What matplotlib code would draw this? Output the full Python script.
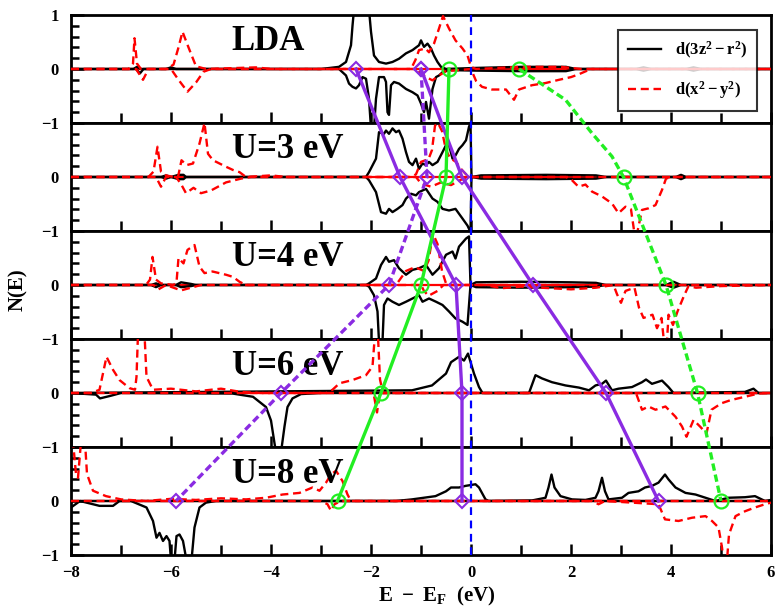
import matplotlib.pyplot as plt
from matplotlib.lines import Line2D
from matplotlib.ticker import MultipleLocator

plt.rcParams['font.family'] = ['Liberation Serif', 'DejaVu Serif']
plt.rcParams['font.weight'] = 'bold'
plt.rcParams['mathtext.fontset'] = 'custom'
plt.rcParams['mathtext.rm'] = 'Liberation Serif:bold'
plt.rcParams['mathtext.it'] = 'Liberation Serif:bold'
plt.rcParams['mathtext.bf'] = 'Liberation Serif:bold'

# ---- panel names ----
panel_names = ["LDA", "U=3 eV", "U=4 eV", "U=6 eV", "U=8 eV"]

# ---- DOS curves, (E, N) pairs ----
# LDA
lda_blk_up = [(-8, 0), (-6.75, 0), (-6.68, 0.04), (-6.6, 0), (-6.1, 0), (-6.0, 0.03), (-5.9, 0),
              (-3.0, 0), (-2.64, 0.04), (-2.50, 0.13), (-2.40, 0.44), (-2.37, 0.8), (-2.34, 1.1),
              (-2.04, 1.1), (-2.00, 0.69), (-1.94, 0.25), (-1.84, 0.13), (-1.70, 0.10), (-1.57, 0.13),
              (-1.44, 0.19), (-1.30, 0.29), (-1.17, 0.35), (-1.04, 0.44), (-1.00, 0.53), (-0.94, 0.41),
              (-0.87, 0.47), (-0.80, 0.38), (-0.74, 0.25), (-0.67, 0.13), (-0.60, 0.04), (-0.50, 0),
              (0.1, 0.02), (1.0, 0.04), (1.9, 0.04), (2.1, 0), (3.3, 0.0), (3.45, 0.03), (3.6, 0),
              (4.3, 0), (4.45, 0.03), (4.6, 0), (6, 0)]
lda_blk_dn = [(-8, 0), (-6.7, 0), (-6.62, -0.08), (-6.55, 0), (-2.64, 0), (-2.50, -0.12),
              (-2.44, -0.27), (-2.37, -0.33), (-2.30, -0.36), (-2.24, -0.30), (-2.17, -0.15),
              (-2.10, -0.18), (-2.04, -0.55), (-2.00, -1.1), (-1.94, -1.1), (-1.90, -0.55),
              (-1.84, -0.15), (-1.74, -0.15), (-1.70, -0.24), (-1.67, -0.80), (-1.64, -0.85),
              (-1.60, -0.30), (-1.54, -0.24), (-1.44, -0.27), (-1.30, -0.37), (-1.17, -0.43),
              (-1.07, -0.49), (-1.00, -0.64), (-0.94, -0.80), (-0.90, -0.61), (-0.84, -0.92),
              (-0.77, -0.37), (-0.70, -0.15), (-0.64, -0.12), (-0.57, -0.06), (-0.44, -0.02),
              (0.1, -0.03), (1.0, -0.04), (1.9, -0.04), (2.1, 0), (3.3, 0), (3.45, -0.03), (3.6, 0),
              (4.3, 0), (4.45, -0.03), (4.6, 0), (6, 0)]
lda_red_up = [(-8, 0), (-6.85, 0), (-6.76, 0.1), (-6.73, 0.57), (-6.68, 0.1), (-6.6, 0),
              (-6.1, 0), (-5.95, 0.08), (-5.85, 0.4), (-5.77, 0.69), (-5.65, 0.4), (-5.5, 0.05),
              (-5.3, 0), (-4.3, 0.03), (-4.0, 0), (-1.2, 0), (-1.11, 0.17), (-1.04, 0.35),
              (-0.91, 0.38), (-0.84, 0.31), (-0.74, 0.47), (-0.64, 0.75), (-0.56, 0.98),
              (-0.44, 0.75), (-0.31, 0.53), (-0.17, 0.38), (-0.07, 0.25), (0.0, 0.04), (0.1, 0),
              (1.0, 0.04), (1.8, 0.04), (2.2, 0), (6, 0)]
lda_red_dn = [(-8, 0), (-6.7, 0), (-6.56, -0.2), (-6.45, 0), (-6.0, 0), (-5.85, -0.2),
              (-5.67, -0.42), (-5.5, -0.25), (-5.35, -0.05), (-5.2, 0), (-1.1, 0), (-0.9, -0.15),
              (-0.77, -0.21), (-0.64, -0.12), (-0.5, -0.04), (0.0, 0), (0.1, -0.22), (0.22, -0.33),
              (0.42, -0.38), (0.7, -0.38), (0.86, -0.57), (0.96, -0.38), (1.22, -0.30),
              (1.49, -0.26), (1.76, -0.2), (2.0, -0.15), (2.15, -0.1), (2.4, 0), (6, 0)]

# U = 3 eV
u3_blk_up = [(-8, 0), (-6.2, 0), (-6.1, 0.03), (-6.0, 0), (-5.85, 0.04), (-5.75, 0.04), (-5.7, 0),
             (-2.1, 0), (-2.04, 0.09), (-1.90, 0.34), (-1.84, 0.83), (-1.74, 0.8), (-1.70, 0.86),
             (-1.64, 0.8), (-1.57, 0.9), (-1.50, 0.83), (-1.44, 0.86), (-1.37, 0.71), (-1.30, 0.46),
             (-1.24, 0.28), (-1.17, 0.22), (-1.10, 0.34), (-1.04, 0.15), (-0.97, 0.25), (-0.90, 0.22),
             (-0.84, 0.28), (-0.77, 0.22), (-0.67, 0.28), (-0.57, 0.46), (-0.50, 0.59), (-0.44, 0.59),
             (-0.37, 0.34), (-0.31, 0.40), (-0.24, 0.52), (-0.17, 0.59), (-0.10, 0.68), (-0.04, 0.93),
             (-0.01, 1.0), (0.01, 0), (0.2, 0.03), (1.5, 0.04), (2.5, 0.03), (2.7, 0), (4.1, 0),
             (4.2, 0.04), (4.3, 0), (6, 0)]
u3_blk_dn = [(-8, 0), (-6.2, 0), (-6.1, -0.03), (-6.0, 0), (-5.85, -0.04), (-5.75, -0.04), (-5.7, 0),
             (-2.1, 0), (-2.04, -0.06), (-1.90, -0.28), (-1.80, -0.65), (-1.70, -0.68), (-1.64, -0.59),
             (-1.57, -0.65), (-1.47, -0.59), (-1.37, -0.52), (-1.30, -0.4), (-1.20, -0.31),
             (-1.10, -0.34), (-1.04, -0.28), (-0.90, -0.22), (-0.77, -0.4), (-0.67, -0.46),
             (-0.57, -0.59), (-0.44, -0.62), (-0.31, -0.59), (-0.17, -0.77), (-0.07, -0.9),
             (-0.01, -1.02), (0.01, 0), (0.2, -0.03), (1.5, -0.04), (2.5, -0.03), (2.7, 0),
             (4.1, 0), (4.2, -0.04), (4.3, 0), (6, 0)]
u3_red_up = [(-8, 0), (-6.45, 0), (-6.35, 0.1), (-6.27, 0.56), (-6.2, 0.1), (-6.1, 0.03),
             (-5.95, 0), (-5.86, 0), (-5.79, 0.31), (-5.69, 0.22), (-5.56, 0.25), (-5.43, 0.62),
             (-5.33, 1.0), (-5.26, 0.43), (-5.16, 0.31), (-5.03, 0.25), (-4.90, 0.19),
             (-4.76, 0.13), (-4.63, 0.09), (-4.5, 0), (-4.0, 0.03), (-3.7, 0), (-1.2, 0),
             (-1.1, 0.05), (-1.0, 0.28), (-0.85, 0.33), (-0.78, 0.5), (-0.72, 0.95), (-0.66, 1.0),
             (-0.58, 0.85), (-0.5, 0.5), (-0.42, 0.35), (-0.3, 0.28), (-0.2, 0.15), (-0.1, 0.05),
             (0, 0), (6, 0)]
u3_red_dn = [(-8, 0), (-6.3, 0), (-6.2, -0.18), (-6.1, 0), (-5.9, 0), (-5.8, -0.13), (-5.7, -0.3),
             (-5.55, -0.2), (-5.4, -0.3), (-5.2, -0.25), (-4.9, -0.1), (-4.6, -0.03), (-4.4, 0),
             (-1.1, 0), (-1.0, -0.12), (-0.8, -0.18), (-0.6, -0.1), (-0.4, -0.15), (-0.2, -0.05),
             (0, 0), (1.9, 0), (2.02, -0.06), (2.15, -0.18), (2.29, -0.14), (2.42, -0.27),
             (2.62, -0.36), (2.82, -0.49), (2.95, -0.67), (3.09, -0.55), (3.2, -0.6), (3.27, -1.05),
             (3.32, -1.05), (3.42, -0.61), (3.55, -0.58), (3.69, -0.52), (3.82, -0.24),
             (3.9, -0.03), (4.0, 0), (6, 0)]

# U = 4 eV
u4_blk_up = [(-8, 0), (-6.4, 0), (-6.3, 0.03), (-6.2, 0), (-5.9, 0), (-5.8, 0.05), (-5.6, 0.02),
             (-5.5, 0), (-2.1, 0), (-2.04, 0.03), (-1.90, 0.12), (-1.80, 0.37), (-1.70, 0.52),
             (-1.64, 0.43), (-1.54, 0.46), (-1.44, 0.31), (-1.30, 0.19), (-1.17, 0.28), (-1.04, 0.31),
             (-0.90, 0.37), (-0.77, 0.19), (-0.64, 0.31), (-0.50, 0.56), (-0.37, 0.62), (-0.31, 0.49),
             (-0.24, 0.71), (-0.10, 0.86), (-0.04, 0.9), (-0.01, 0), (0.1, 0.05), (1.0, 0.06),
             (2.0, 0.05), (2.5, 0.04), (2.7, 0), (3.9, 0), (4.05, 0.06), (4.2, 0), (6, 0)]
u4_blk_dn = [(-8, 0), (-6.4, 0), (-6.3, -0.04), (-6.2, 0), (-5.9, 0), (-5.8, -0.04), (-5.6, -0.02),
             (-5.5, 0), (-2.1, 0), (-2.04, -0.03), (-1.94, -0.19), (-1.87, -0.49), (-1.84, -1.05),
             (-1.77, -1.05), (-1.74, -0.37), (-1.67, -0.25), (-1.57, -0.31), (-1.44, -0.37),
             (-1.30, -0.31), (-1.17, -0.25), (-1.04, -0.19), (-0.97, -0.31), (-0.84, -0.25),
             (-0.70, -0.31), (-0.57, -0.37), (-0.44, -0.49), (-0.31, -0.62), (-0.17, -0.68),
             (-0.07, -0.74), (-0.01, 0), (0.1, -0.04), (1.0, -0.05), (2.0, -0.04), (2.5, -0.03),
             (2.7, 0), (3.9, 0), (4.05, -0.05), (4.2, 0), (6, 0)]
u4_red_up = [(-8, 0), (-6.5, 0), (-6.42, 0.1), (-6.37, 0.52), (-6.3, 0.1), (-6.2, 0.03),
             (-5.95, 0), (-5.89, 0.05), (-5.85, 0.5), (-5.75, 0.4), (-5.67, 0.65), (-5.53, 0.74),
             (-5.43, 0.34), (-5.33, 0.22), (-5.17, 0.25), (-4.9, 0.19), (-4.76, 0.15),
             (-4.63, 0.06), (-4.5, 0), (-1.5, 0), (-1.30, 0.26), (-1.12, 0.33), (-0.94, 0.26),
             (-0.85, 0.45), (-0.76, 0.95), (-0.67, 0.76), (-0.58, 0.26), (-0.49, 0), (6, 0)]
u4_red_dn = [(-8, 0), (-6.35, 0), (-6.25, -0.08), (-6.1, 0), (-5.8, -0.1), (-5.6, -0.05),
             (-5.4, 0), (-1.0, 0), (-0.94, -0.11), (-0.85, -0.2), (-0.67, -0.11), (-0.55, 0),
             (0.3, 0), (0.6, -0.06), (1.0, -0.03), (2.0, -0.08), (2.5, -0.05), (2.85, 0),
             (2.92, -0.17), (3.0, -0.33), (3.09, -0.11), (3.27, -0.05), (3.36, -0.42),
             (3.45, -0.61), (3.63, -0.55), (3.72, -0.8), (3.81, -0.61), (3.86, -1.05),
             (3.92, -1.05), (3.95, -0.55), (4.04, -0.74), (4.13, -0.49), (4.26, -0.2),
             (4.35, -0.02), (4.5, -0.05), (5.0, -0.02), (6, 0)]

# U = 6 eV
u6_blk_up = [(-8, 0), (-1.18, 0.05), (-0.78, 0.14), (-0.5, 0.36), (-0.4, 0.57), (-0.24, 0.67),
             (-0.14, 0.6), (-0.06, 0.73), (0.06, 0.36), (0.16, 0.11), (0.23, 0), (1.16, 0),
             (1.29, 0.33), (1.42, 0.27), (1.62, 0.2), (1.89, 0.14), (2.16, 0.1), (2.36, 0.05),
             (2.49, 0.14), (2.62, 0.17), (2.7, 0.23), (2.82, 0.05), (2.95, 0.08), (3.22, 0.11),
             (3.42, 0.2), (3.5, 0.25), (3.62, 0.17), (3.82, 0.23), (3.95, 0.11), (4.05, 0),
             (5.48, 0.02), (5.65, 0.08), (5.75, 0), (6, 0)]
u6_blk_dn = [(-8, 0), (-7.5, -0.03), (-7.42, -0.1), (-7.2, -0.05), (-7.0, 0), (-4.77, -0.01),
             (-4.36, -0.07), (-4.1, -0.26), (-4.0, -0.51), (-3.93, -0.93), (-3.9, -1.1),
             (-3.8, -1.1), (-3.73, -0.62), (-3.67, -0.26), (-3.57, -0.1), (-3.4, -0.02),
             (-3.0, 0), (6, 0)]
u6_red_up = [(-8, 0), (-7.6, 0), (-7.43, 0.06), (-7.29, 0.67), (-7.16, 0.43), (-7.03, 0.24),
             (-6.83, 0.09), (-6.72, 0.06), (-6.69, 0.3), (-6.66, 1.1), (-6.53, 1.1), (-6.49, 0.3),
             (-6.36, 0.06), (-6.0, 0.08), (-5.5, 0.03), (-5.0, 0.08), (-4.6, 0.02), (-4.2, 0),
             (-2.9, 0), (-2.77, 0.06), (-2.63, 0.18), (-2.37, 0.24), (-2.1, 0.33), (-1.97, 0.49),
             (-1.92, 1.1), (-1.86, 1.05), (-1.82, 0.25), (-1.76, 0), (6, 0)]
u6_red_dn = [(-8, 0), (-1.95, 0), (-1.88, -0.36), (-1.82, 0), (3.3, 0), (3.42, -0.31),
             (3.55, -0.25), (3.69, -0.31), (3.89, -0.25), (4.09, -0.44), (4.22, -0.62),
             (4.31, -0.81), (4.45, -0.5), (4.58, -0.62), (4.71, -0.75), (4.81, -0.31),
             (5.01, -0.19), (5.2, -0.13), (5.48, -0.07), (5.75, -0.01), (6, 0)]

# U = 8 eV
u8_blk_up = [(-8, 0), (-1.5, 0), (-1.18, 0.03), (-0.71, 0.09), (-0.5, 0.18), (-0.4, 0.25),
             (-0.24, 0.25), (-0.11, 0.28), (0.09, 0.31), (0.16, 0.25), (0.29, 0.03), (0.35, 0),
             (1.22, 0.01), (1.49, 0.06), (1.55, 0.25), (1.61, 0.49), (1.67, 0.25), (1.79, 0.09),
             (2.02, 0.03), (2.29, 0.02), (2.49, 0.06), (2.55, 0.18), (2.62, 0.43), (2.68, 0.18),
             (2.75, 0.03), (3.02, 0.06), (3.15, 0.15), (3.35, 0.18), (3.48, 0.25), (3.62, 0.28),
             (3.75, 0.34), (3.88, 0.49), (3.95, 0.40), (4.09, 0.25), (4.29, 0.15), (4.49, 0.12),
             (4.69, 0.06), (4.89, 0.0), (5.15, 0.06), (5.48, 0.07), (5.68, 0.09), (5.88, 0.0),
             (6, 0.02)]
u8_blk_dn = [(-8, -0.12), (-7.82, 0), (-7.69, -0.03), (-7.43, -0.09), (-7.16, -0.09),
             (-7.03, 0), (-6.8, 0), (-6.49, -0.12), (-6.36, -0.37), (-6.29, -0.68),
             (-6.23, -0.59), (-6.16, -0.74), (-6.09, -0.65), (-6.03, -0.74), (-6.0, -1.1),
             (-5.93, -1.1), (-5.89, -0.65), (-5.83, -0.62), (-5.76, -0.74), (-5.69, -1.1),
             (-5.59, -1.1), (-5.53, -0.49), (-5.43, -0.12), (-5.3, -0.03), (-5.1, 0), (6, 0)]
u8_red_up = [(-8, 1.1), (-7.96, 1.1), (-7.9, 0.5), (-7.86, 0.43), (-7.8, 1.1), (-7.72, 1.1),
             (-7.68, 0.5), (-7.56, 0.19), (-7.3, 0.09), (-7.0, 0.03), (-6.5, 0), (-6.0, 0.04),
             (-5.5, 0.02), (-5.0, 0.05), (-4.5, 0.03), (-4.1, 0.06), (-3.77, 0.12), (-3.43, 0.15),
             (-3.17, 0.25), (-3.03, 0.19), (-2.9, 0.34), (-2.8, 0.49), (-2.7, 0.56), (-2.57, 0.37),
             (-2.47, 0.12), (-2.4, 0), (6, 0)]
u8_red_dn = [(-8, 0), (-3.0, 0), (-2.87, -0.06), (-2.8, -0.18), (-2.73, -0.06), (-2.6, 0),
             (2.42, 0), (2.55, -0.06), (2.68, 0), (3.75, -0.06), (3.88, -0.34), (4.15, -0.37),
             (4.42, -0.31), (4.69, -0.28), (4.82, -0.37), (4.95, -0.49), (5.02, -0.86),
             (5.05, -1.1), (5.12, -1.1), (5.16, -0.62), (5.29, -0.28), (5.48, -0.19),
             (5.68, -0.12), (5.88, -0.06), (6, -0.03)]

blk_curves = [(lda_blk_up, lda_blk_dn), (u3_blk_up, u3_blk_dn), (u4_blk_up, u4_blk_dn),
              (u6_blk_up, u6_blk_dn), (u8_blk_up, u8_blk_dn)]
red_curves = [(lda_red_up, lda_red_dn), (u3_red_up, u3_red_dn), (u4_red_up, u4_red_dn),
              (u6_red_up, u6_red_dn), (u8_red_up, u8_red_dn)]

# ---- level positions tracked across panels (LDA, U=3, 4, 6, 8) ----
purple_solid_a = [-2.3, -1.42, -0.3, -0.18, -0.18]
purple_solid_b = [-1.0, -0.18, 1.24, 2.7, 3.75]
purple_dashed = [-1.0, -0.88, -1.64, -3.8, -5.9]
green_solid = [-0.44, -0.5, -1.0, -1.8, -2.67]
green_dashed = [0.96, 3.05, 3.9, 4.53, 5.0]
# bend of the dashed green line between LDA and U=3 (E, level)
green_bend_x = [1.89, 2.42, 2.82]
green_bend_y = [3.43, 2.81, 2.38]
panel_level = [4, 2, 0, -2, -4]


def xy(pts):
    return [p[0] for p in pts], [p[1] for p in pts]


W_PX, H_PX = 776, 607
fig = plt.figure(figsize=(W_PX / 100, H_PX / 100), dpi=100)
L = 71 / W_PX
R = 771 / W_PX
TOP = 1 - 15 / H_PX
BOT = 1 - 555 / H_PX
ph = (TOP - BOT) / 5

red_dash = (0, (3.4, 2.0))
axes = []
for i, name in enumerate(panel_names):
    ax = fig.add_axes([L, TOP - (i + 1) * ph, R - L, ph])
    ax.set_xlim(-8, 6)
    ax.set_ylim(-1, 1)
    ax.axhline(0, color='red', lw=1.6, zorder=1)
    for c in blk_curves[i]:
        x, y = xy(c)
        ax.plot(x, y, color='black', lw=1.7, zorder=2)
    for c in red_curves[i]:
        x, y = xy(c)
        ax.plot(x, y, color='red', lw=1.7, ls=red_dash, zorder=3)
    ax.text(-4.79, 0.5, name, fontsize=25, fontweight='bold', ha='left', va='center', zorder=5)

    ax.xaxis.set_major_locator(MultipleLocator(2))
    ax.xaxis.set_minor_locator(MultipleLocator(1))
    ax.yaxis.set_minor_locator(MultipleLocator(0.2))
    ax.set_yticks([-1, 0, 1])
    ax.set_yticklabels(['\u22121', '0', '1' if i == 0 else ''])
    ax.tick_params(axis='both', which='both', direction='in', width=1.8,
                   top=False, right=False, labelsize=12)
    ax.tick_params(axis='x', which='major', length=8, pad=7)
    ax.tick_params(axis='x', which='minor', length=7)
    ax.tick_params(axis='y', which='major', length=9, pad=9)
    ax.tick_params(axis='y', which='minor', length=6)
    if i < 4:
        ax.tick_params(axis='x', labelbottom=False)
    for sp in ax.spines.values():
        sp.set_linewidth(2)
    for lab in ax.get_xticklabels() + ax.get_yticklabels():
        lab.set_fontweight('bold')
    axes.append(ax)

# legend in the top panel
handles = [Line2D([], [], color='black', lw=1.7),
           Line2D([], [], color='red', lw=1.7, ls=red_dash)]
leg = axes[0].legend(handles, [r'$\mathbf{d(3z^2-r^2)}$', r'$\mathbf{d(x^2-y^2)}$'],
                     loc='upper right', bbox_to_anchor=(0.98, 0.86), borderaxespad=0,
                     fontsize=12, frameon=True, fancybox=False, edgecolor='black',
                     handlelength=2.0, handletextpad=0.8, borderpad=0.6, labelspacing=1.1)
leg.get_frame().set_linewidth(1.5)
leg.set_zorder(10)

# overlay for the level-tracking lines
ov = fig.add_axes([L, BOT, R - L, TOP - BOT])
ov.set_xlim(-8, 6)
ov.set_ylim(-5, 5)
ov.axis('off')
ov.patch.set_alpha(0)

ov.axvline(0, color='blue', lw=1.6, ls=(0, (3.5, 2.5)), zorder=1)

purple = '#8a2be2'
green = '#22ee22'
dia = dict(marker='D', ms=7, mfc='none', mec=purple, mew=1.5)
circ = dict(marker='o', ms=10, mfc='none', mec=green, mew=1.6)
ov.plot(purple_solid_a, panel_level, color=purple, lw=2.4, **dia)
ov.plot(purple_solid_b, panel_level, color=purple, lw=2.4, **dia)
ov.plot(purple_dashed, panel_level, color=purple, lw=2.4, ls=(0, (2.2, 1.2)), **dia)
ov.plot(green_solid, panel_level, color=green, lw=2.4, **circ)
gx = [green_dashed[0]] + green_bend_x + green_dashed[1:]
gy = [panel_level[0]] + green_bend_y + panel_level[1:]
ov.plot(gx, gy, color=green, lw=2.4, ls=(0, (2.2, 1.2)))
ov.plot(green_dashed, panel_level, ls='none', **circ)

fig.text(18 / W_PX, 1 - 290 / H_PX, 'N(E)', rotation=90, fontsize=15, fontweight='bold',
         ha='center', va='center')
fig.text(437 / W_PX, 1 - 596 / H_PX, r'$\mathbf{E\ -\ E_F}$  (eV)', fontsize=15,
         fontweight='bold', ha='center', va='center')

fig.savefig('out.png', dpi=100)
